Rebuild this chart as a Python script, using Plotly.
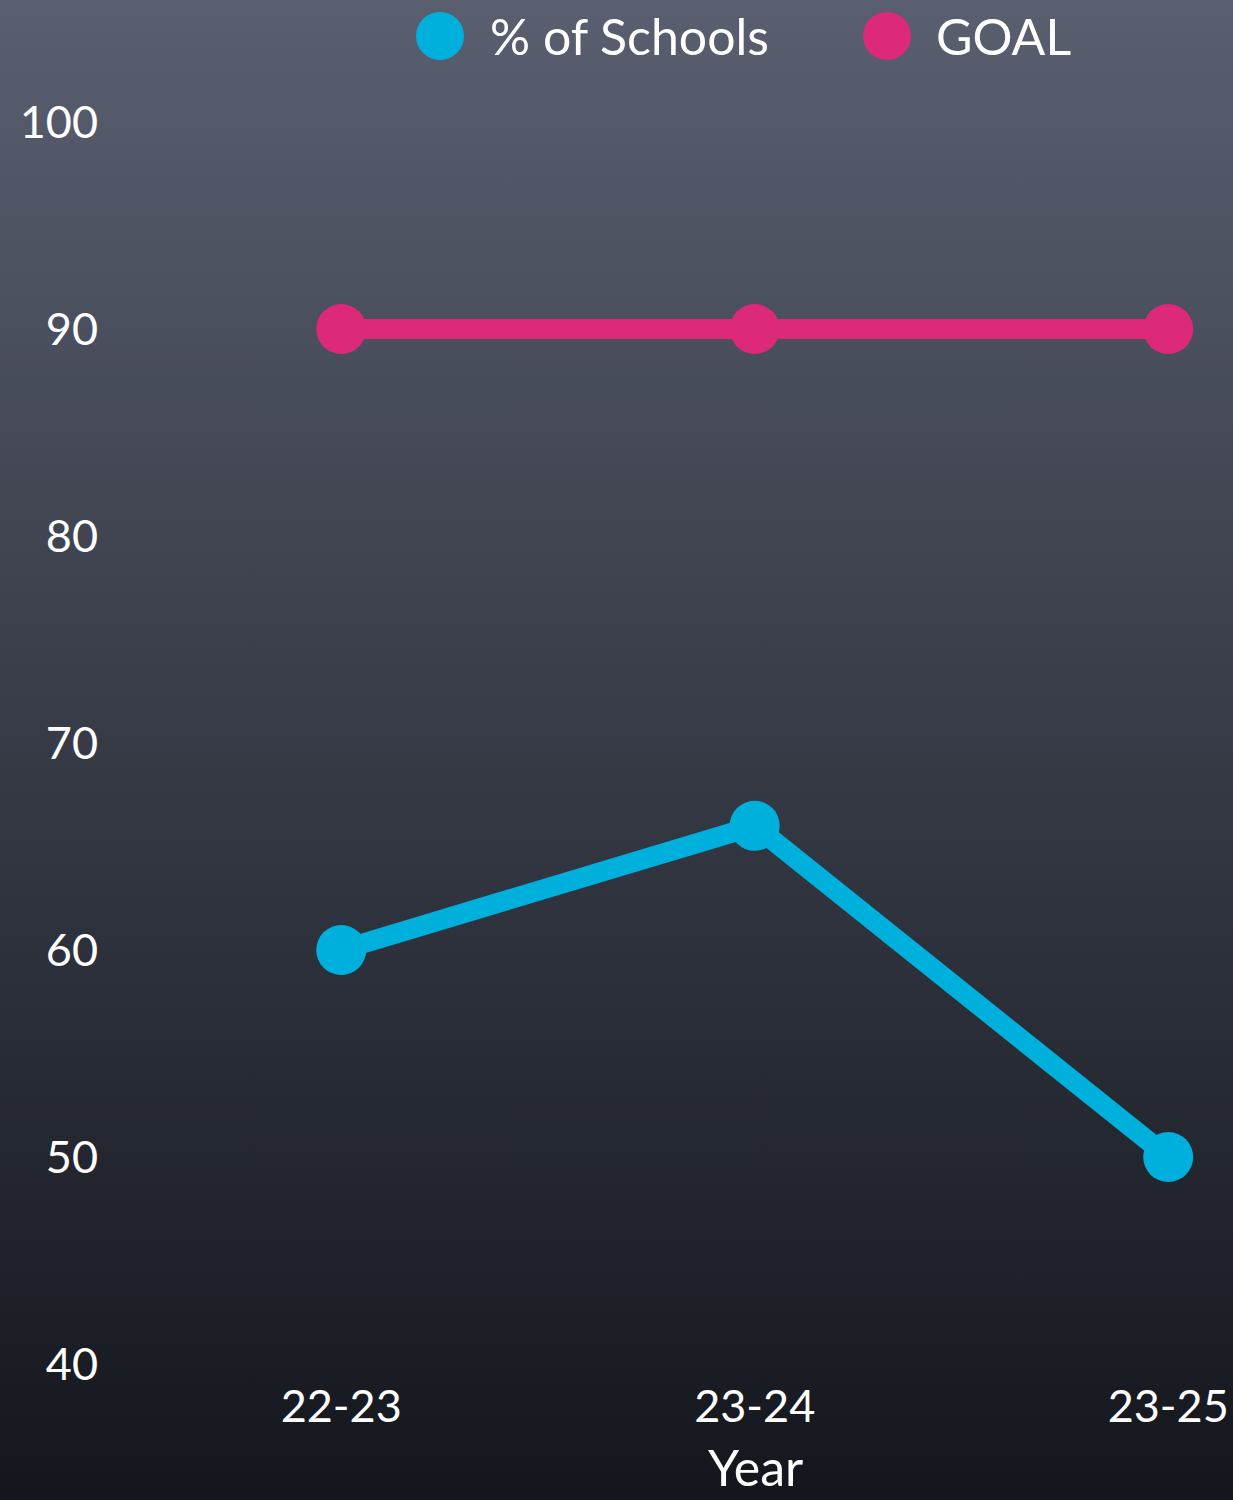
import base64
import plotly.graph_objects as go

years = ["22-23", "23-24", "23-25"]
schools_pct = [60, 66, 50]
goal_pct = [90, 90, 90]
y_ticks = [40, 50, 60, 70, 80, 90, 100]

BLUE = "#00b0dc"
PINK = "#dc2a78"
FONT = "Lato"

W, H = 1233, 1500
ML, MR, MT, MB = 120, 40, 122, 136
PW, PH = W - ML - MR, H - MT - MB

svg = (
    '<svg xmlns="http://www.w3.org/2000/svg" width="100" height="100" preserveAspectRatio="none">'
    '<defs><linearGradient id="g" x1="0" y1="0" x2="0" y2="1">'
    '<stop offset="0" stop-color="#5a5f70"/><stop offset="1" stop-color="#13161c"/>'
    '</linearGradient></defs><rect width="100" height="100" fill="url(#g)"/></svg>'
)
src = "data:image/svg+xml;base64," + base64.b64encode(svg.encode()).decode()

fig = go.Figure()
fig.add_trace(go.Scatter(x=years, y=schools_pct, mode="lines+markers", name="% of Schools",
                         line=dict(color=BLUE, width=20), marker=dict(size=50, color=BLUE),
                         cliponaxis=False, showlegend=False))
fig.add_trace(go.Scatter(x=years, y=goal_pct, mode="lines+markers", name="GOAL",
                         line=dict(color=PINK, width=20), marker=dict(size=50, color=PINK),
                         cliponaxis=False, showlegend=False))


def px_x(p):
    return (p - ML) / PW


def px_y(p):
    return (H - MB - p) / PH


legend_items = [("% of Schools", BLUE, 440, 488), ("GOAL", PINK, 887, 934)]
shapes = []
annotations = []
for label, col, cx, tx in legend_items:
    shapes.append(dict(type="circle", xref="paper", yref="paper", xsizemode="pixel", ysizemode="pixel",
                       xanchor=px_x(cx), yanchor=px_y(36), x0=-24, x1=24, y0=-24, y1=24,
                       fillcolor=col, line=dict(width=0)))
    annotations.append(dict(text=label, xref="paper", yref="paper", x=px_x(tx), y=px_y(36),
                            xanchor="left", yanchor="middle", showarrow=False,
                            font=dict(family=FONT, size=50, color="white")))

annotations.append(dict(text="Year", xref="paper", yref="paper", x=px_x(755), y=px_y(1467),
                        xanchor="center", yanchor="middle", showarrow=False,
                        font=dict(family=FONT, size=50, color="white")))

fig.update_layout(
    width=W, height=H,
    margin=dict(l=ML, r=MR, t=MT, b=MB),
    paper_bgcolor="#13161c", plot_bgcolor="rgba(0,0,0,0)",
    font=dict(family=FONT, color="white"),
    images=[dict(source=src, xref="paper", yref="paper", x=(-ML - 10) / PW, y=1 + MT / PH,
                 sizex=(W + 20) / PW, sizey=(H + 2) / PH, sizing="stretch", layer="below",
                 xanchor="left", yanchor="top")],
    shapes=shapes, annotations=annotations,
    showlegend=False,
    xaxis=dict(type="category", range=[-0.535, 2.060], showgrid=False, zeroline=False, showline=False,
               automargin=False,
               tickfont=dict(size=45, color="white"), ticklabelstandoff=12),
    yaxis=dict(range=[40, 100], tickvals=y_ticks, showgrid=False, zeroline=False, showline=False,
               automargin=False,
               tickfont=dict(size=45, color="white"), ticklabelstandoff=21),
)

fig.write_html("out.html")
